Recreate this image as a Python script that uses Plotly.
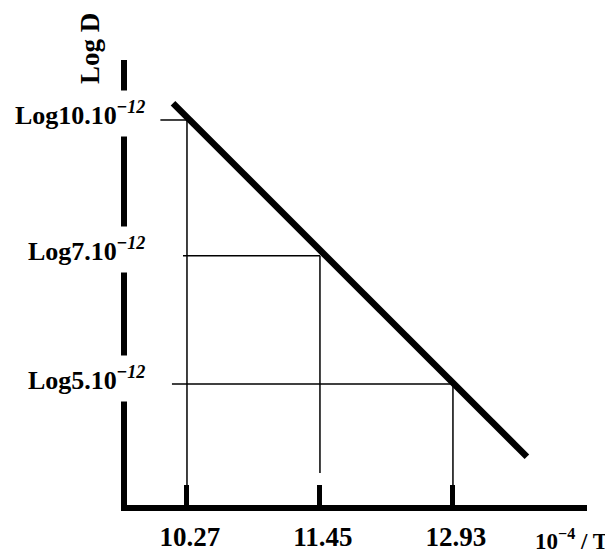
import numpy as np
import plotly.graph_objects as go

# ---- data ----
inv_T_labels = ["10.27", "11.45", "12.93"]           # 10^4/T tick labels
D_values = [10e-12, 7e-12, 5e-12]                     # diffusion coefficients
D_labels = ["Log10.10", "Log7.10", "Log5.10"]         # y labels (with 10^-12 exponent)
inv_T_pos = [0, 1, 2]                                 # schematic positions of the x ticks
logD = list(np.log10(D_values))

# straight line drawn through the points (endpoints)
line_x = [-0.105, 2.556]
line_y = [-10.981, -11.384]

# start of each horizontal guide line (schematic)
hline_start = [-0.20, -0.03, -0.113]
# lower end of each vertical guide line
vline_end = [-11.418, -11.4025, -11.42]

FONT = "Liberation Serif"

fig = go.Figure()

# guide lines
for i in range(3):
    fig.add_trace(go.Scatter(x=[hline_start[i], inv_T_pos[i]], y=[logD[i], logD[i]],
                             mode="lines", line=dict(color="black", width=1.5),
                             hoverinfo="skip", showlegend=False))
    fig.add_trace(go.Scatter(x=[inv_T_pos[i], inv_T_pos[i]], y=[logD[i], vline_end[i]],
                             mode="lines", line=dict(color="black", width=1.5),
                             hoverinfo="skip", showlegend=False))

# main line
fig.add_trace(go.Scatter(x=line_x, y=line_y, mode="lines",
                         line=dict(color="black", width=6.5),
                         hoverinfo="skip", showlegend=False))

annotations = []
for lab, y in zip(D_labels, logD):
    annotations.append(dict(
        x=-0.263, y=y, xref="x", yref="y", xanchor="right", yanchor="middle",
        yshift=6, showarrow=False,
        text=f"{lab}<sup>−<i>12</i></sup>",
        font=dict(family=FONT, size=26, color="black", weight="bold"),
        bgcolor="white", borderpad=6))

annotations.append(dict(
    x=-0.0804, y=1.0247, xref="paper", yref="paper", xanchor="center", yanchor="middle",
    showarrow=False, textangle=-90, text="Log D",
    font=dict(family=FONT, size=27, color="black", weight="bold")))

annotations.append(dict(
    x=0.967, y=-0.1124, xref="paper", yref="paper", xanchor="center", yanchor="bottom",
    showarrow=False, text="10<sup>−4</sup> / T", borderpad=0,
    font=dict(family=FONT, size=23, color="black", weight="bold")))

fig.update_layout(
    width=605, height=547,
    margin=dict(l=119, r=26, t=52, b=50),
    paper_bgcolor="white", plot_bgcolor="white",
    annotations=annotations,
    xaxis=dict(range=[-0.451, 3.008], showgrid=False, zeroline=False, automargin=False,
               showline=True, linecolor="black", linewidth=6,
               ticks="inside", ticklen=20, tickwidth=5, tickcolor="black",
               tickvals=inv_T_pos, ticktext=inv_T_labels,
               ticklabelstandoff=3, ticklabelshift=3,
               tickfont=dict(family=FONT, size=27, color="black", weight="bold")),
    yaxis=dict(range=[-11.439, -10.9316], showgrid=False, zeroline=False, automargin=False,
               showline=True, linecolor="black", linewidth=6,
               showticklabels=False, ticks=""),
)

fig.write_html("out.html")
